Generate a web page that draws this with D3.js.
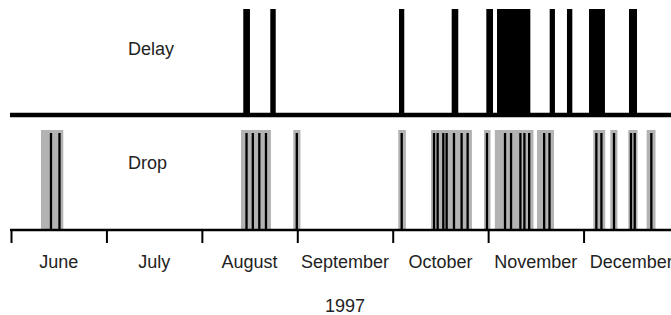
<!DOCTYPE html>
<html lang="en">
<head>
<meta charset="utf-8">
<title>Delay and Drop, 1997</title>
<script src="https://d3js.org/d3.v7.min.js"></script>
<style>
  body { margin: 0; background: #fff; }
  svg { display: block; }
  text { font-family: "Liberation Sans", Arial, sans-serif; fill: #222; }
</style>
</head>
<body>
<script>
// months on the axis (equal width, value = months since June 1)
var months = ["June", "July", "August", "September", "October", "November", "December"];

// delay periods, start / end in months since June 1
var delayStart = [2.434, 2.717, 4.066, 4.618, 4.981, 5.093, 5.645, 5.826, 6.057, 6.476];
var delayEnd   = [2.504, 2.774, 4.121, 4.687, 5.051, 5.442, 5.700, 5.882, 6.224, 6.560];

// drop periods (grey bands)
var dropStart = [0.314, 2.410, 2.958, 4.058, 4.401, 4.957, 5.070, 5.512, 6.102, 6.280, 6.469, 6.661];
var dropEnd   = [0.548, 2.724, 3.033, 4.138, 4.830, 5.025, 5.475, 5.690, 6.227, 6.355, 6.565, 6.754];

// single drop events (black lines)
var dropEvents = [0.419, 0.508,
                  2.468, 2.534, 2.602, 2.672, 2.995,
                  4.094, 4.433, 4.471, 4.530, 4.565, 4.642, 4.722, 4.785,
                  4.988, 5.177, 5.240, 5.338, 5.380, 5.430, 5.587, 5.643,
                  6.134, 6.187, 6.319, 6.497, 6.536, 6.710];

var w = 671, h = 315;

var x = d3.scaleLinear().domain([0, 7]).range([11, 679]);
var yDelay = d3.scaleLinear().domain([0, 1]).range([115, 9]);
var yDrop = d3.scaleLinear().domain([0, 1]).range([230, 130]);

var svg = d3.select("body").append("svg")
    .attr("width", w)
    .attr("height", h);

// delay bars
var delay = d3.range(delayStart.length).map(function(i) {
  return {s: delayStart[i], e: delayEnd[i]};
});
svg.append("g").selectAll("rect")
    .data(delay)
    .enter().append("rect")
    .attr("x", function(d) { return x(d.s); })
    .attr("width", function(d) { return x(d.e) - x(d.s); })
    .attr("y", yDelay(1))
    .attr("height", yDelay(0) - yDelay(1))
    .attr("fill", "#000");

// delay baseline
svg.append("line")
    .attr("x1", 10).attr("x2", w)
    .attr("y1", yDelay(0)).attr("y2", yDelay(0))
    .attr("stroke", "#000")
    .attr("stroke-width", 4.5);

// drop grey bands
var drop = d3.range(dropStart.length).map(function(i) {
  return {s: dropStart[i], e: dropEnd[i]};
});
svg.append("g").selectAll("rect")
    .data(drop)
    .enter().append("rect")
    .attr("x", function(d) { return x(d.s); })
    .attr("width", function(d) { return x(d.e) - x(d.s); })
    .attr("y", yDrop(1))
    .attr("height", yDrop(0) - yDrop(1))
    .attr("fill", "#b3b3b3");

// drop events
svg.append("g").selectAll("line")
    .data(dropEvents)
    .enter().append("line")
    .attr("x1", function(d) { return x(d); })
    .attr("x2", function(d) { return x(d); })
    .attr("y1", yDrop(0.97))
    .attr("y2", yDrop(0))
    .attr("stroke", "#000")
    .attr("stroke-width", 2.3);

// labels
svg.append("text").attr("x", 128).attr("y", 55)
    .style("font-size", "18px").text("Delay");
svg.append("text").attr("x", 128).attr("y", 169)
    .style("font-size", "18px").text("Drop");

// month axis
var axis = d3.axisBottom(x)
    .tickValues(d3.range(0, 7))
    .tickSize(13)
    .tickFormat("");
var gx = svg.append("g")
    .attr("transform", "translate(0," + yDrop(0) + ")")
    .call(axis);
gx.select(".domain").remove();
gx.selectAll(".tick line").attr("stroke", "#000").attr("stroke-width", 2);

svg.append("line")
    .attr("x1", 10).attr("x2", w)
    .attr("y1", yDrop(0)).attr("y2", yDrop(0))
    .attr("stroke", "#000")
    .attr("stroke-width", 2.5);

svg.append("g").selectAll("text")
    .data(months)
    .enter().append("text")
    .attr("x", function(d, i) { return x(i + 0.5); })
    .attr("y", 268)
    .attr("text-anchor", "middle")
    .style("font-size", "18px")
    .text(function(d) { return d; });

svg.append("text")
    .attr("x", x(3.5))
    .attr("y", 312)
    .attr("text-anchor", "middle")
    .style("font-size", "18px")
    .text("1997");
</script>
</body>
</html>
